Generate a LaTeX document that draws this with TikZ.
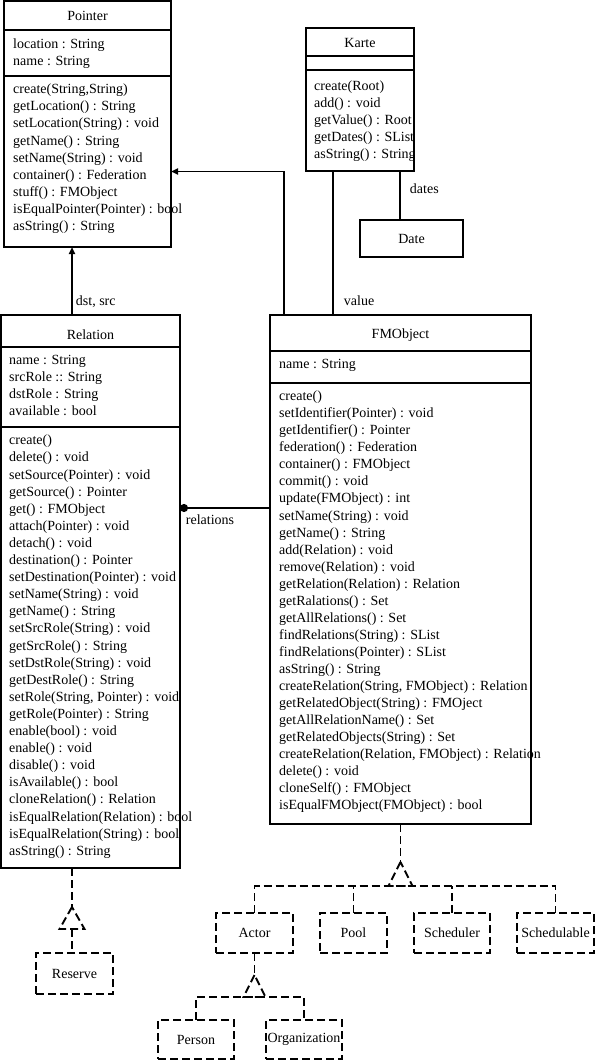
\documentclass[tikz,border=0pt]{standalone}
\usepackage{fontspec}
\setmainfont{Liberation Serif}
\usepackage{tikz}
\usetikzlibrary{arrows.meta}
\usetikzlibrary{calc}
\newcommand{\umlfont}{\fontsize{14}{17}\selectfont}

\begin{document}
\begin{tikzpicture}[x=1pt, y=-1pt,
    box/.style={draw, line width=1.9pt, anchor=north west, inner sep=0pt, outer sep=0pt, font=\umlfont},
    subbox/.style={draw, line width=1.9pt, dash pattern=on 8pt off 4pt, anchor=north, inner sep=0pt, outer sep=0pt, minimum height=40pt, font=\umlfont},
    member/.style={anchor=mid west, inner sep=0pt, yshift=-1.5pt, font=\umlfont},
    clsname/.style={inner sep=0pt, yshift=-1pt, font=\umlfont},
    link/.style={line width=1.9pt},
    isa/.style={line width=1.9pt, dash pattern=on 8pt off 4pt},
    arrowto/.style={-{Triangle[length=7pt,width=6pt]}}]
    \useasboundingbox (0,0) rectangle (595,1062);
    % Pointer
    \node[box, minimum width=167pt, minimum height=246pt] (pointer) at (4,1) {};
    \node[clsname] (ptrname) at ($(pointer.north)+(0,14)$) {Pointer};
    \draw[link] ($(pointer.north west)+(0,29)$) -- ($(pointer.north east)+(0,29)$) ($(pointer.north west)+(0,75)$) -- ($(pointer.north east)+(0,75)$);
    \foreach \m [count=\i from 0] in {{location : String},{name : String}}
        \node[member] (pta\i) at (13,45+17*\i) {\m};
    \foreach \m [count=\i from 0] in {{create(String,String)},{getLocation() : String},{setLocation(String) : void},{getName() : String},{setName(String) : void},{container() : Federation},{stuff() : FMObject},{isEqualPointer(Pointer) : bool},{asString() : String}}
        \node[member] (ptm\i) at (13,90+17.1*\i) {\m};
    % Karte
    \node[box, minimum width=108pt, minimum height=143pt] (karte) at (306,28) {};
    \node[clsname] (kartename) at ($(karte.north)+(0,14)$) {Karte};
    \draw[link] ($(karte.north west)+(0,28)$) -- ($(karte.north east)+(0,28)$) ($(karte.north west)+(0,42)$) -- ($(karte.north east)+(0,42)$);
    \begin{scope}
        \clip (karte.north west) rectangle (karte.south east);
        \foreach \m [count=\i from 0] in {{create(Root)},{add() : void},{getValue() : Root},{getDates() : SList},{asString() : String}}
            \node[member] (ktm\i) at (314,87+17*\i) {\m};
    \end{scope}
    % Date
    \node[box, minimum width=103pt, minimum height=37pt] (date) at (360,220) {Date};
    % Relation
    \node[box, minimum width=179pt, minimum height=553pt] (relation) at (1,315) {};
    \node[clsname] (relname) at ($(relation.north)+(0,19)$) {Relation};
    \draw[link] ($(relation.north west)+(0,32)$) -- ($(relation.north east)+(0,32)$) ($(relation.north west)+(0,112)$) -- ($(relation.north east)+(0,112)$);
    \foreach \m [count=\i from 0] in {{name : String},{srcRole :: String},{dstRole : String},{available : bool}}
        \node[member] (rla\i) at (9,360.5+17*\i) {\m};
    \foreach \m [count=\i from 0] in {{create()},{delete() : void},{setSource(Pointer) : void},{getSource() : Pointer},{get() : FMObject},{attach(Pointer) : void},{detach() : void},{destination() : Pointer},{setDestination(Pointer) : void},{setName(String) : void},{getName() : String},{setSrcRole(String) : void},{getSrcRole() : String},{setDstRole(String) : void},{getDestRole() : String},{setRole(String, Pointer) : void},{getRole(Pointer) : String},{enable(bool) : void},{enable() : void},{disable() : void},{isAvailable() : bool},{cloneRelation() : Relation},{isEqualRelation(Relation) : bool},{isEqualRelation(String) : bool},{asString() : String}}
        \node[member] (rlm\i) at (9,441+17.1*\i) {\m};
    % FMObject
    \node[box, minimum width=261pt, minimum height=509pt] (fmobject) at (270,315) {};
    \node[clsname] (fmname) at ($(fmobject.north)+(0,19)$) {FMObject};
    \draw[link] ($(fmobject.north west)+(0,36)$) -- ($(fmobject.north east)+(0,36)$) ($(fmobject.north west)+(0,68)$) -- ($(fmobject.north east)+(0,68)$);
    \node[member] (fma0) at (279,365) {name : String};
    \foreach \m [count=\i from 0] in {{create()},{setIdentifier(Pointer) : void},{getIdentifier() : Pointer},{federation() : Federation},{container() : FMObject},{commit() : void},{update(FMObject) : int},{setName(String) : void},{getName() : String},{add(Relation) : void},{remove(Relation) : void},{getRelation(Relation) : Relation},{getRalations() : Set},{getAllRelations() : Set},{findRelations(String) : SList},{findRelations(Pointer) : SList},{asString() : String},{createRelation(String, FMObject) : Relation},{getRelatedObject(String) : FMOject},{getAllRelationName() : Set},{getRelatedObjects(String) : Set},{createRelation(Relation, FMObject) : Relation},{delete() : void},{cloneSelf() : FMObject},{isEqualFMObject(FMObject) : bool}}
        \node[member] (fmm\i) at (279,397+17.03*\i) {\m};
    % subclasses
    \node[subbox, minimum width=77pt, minimum height=41pt] (reserve) at (74.5,953) {Reserve};
    \node[subbox, minimum width=77pt] (actor) at (254.5,913) {Actor};
    \node[subbox, minimum width=67pt] (pool) at (353.5,913) {Pool};
    \node[subbox, minimum width=76pt] (scheduler) at (452,913) {Scheduler};
    \node[subbox, minimum width=77pt] (schedulable) at (555.5,913) {Schedulable};
    \node[subbox, minimum width=76pt, minimum height=39pt] (person) at (196,1020) {Person};
    \node[subbox, minimum width=76pt, minimum height=39pt] (organization) at (304,1020) {Organization};
    % associations
    \draw[link, arrowto] ($(relation.north west)+(71,0)$) coordinate (dst) -- (dst |- pointer.south) node[member, pos=0.19, xshift=3pt] (dstlbl) {dst, src};
    \draw[link, arrowto] ($(fmobject.north west)+(14,0)$) |- ($(pointer.north east)+(0,170.5)$);
    \draw[link] ($(karte.south west)+(27,0)$) coordinate (kval) -- (kval |- fmobject.north) node[member, pos=0.91, xshift=10pt] (vallbl) {value};
    \draw[link] ($(karte.south west)+(94,0)$) coordinate (kdat) -- (kdat |- date.north) node[member, pos=0.39, xshift=9pt] (datlbl) {dates};
    \draw[link, {Circle[length=8pt]}-] ($(relation.north east)+(0,193)$) -- ($(fmobject.north west)+(0,193)$) node[member, pos=0, xshift=5pt, yshift=-13pt] (rellbl) {relations};
    % generalisations
    \draw[isa] (fmobject.south) -- ++(0,38) coordinate (fmtip);
    \draw[isa] (fmtip) -- ++(-12,24) -- ++(24,0) -- cycle;
    \draw[isa] (actor.north) -- ++(0,-27) -| (schedulable.north);
    \draw[isa] (pool.north) -- ++(0,-27);
    \draw[isa] (scheduler.north) -- ++(0,-27);
    \draw[isa] (actor.south) -- ++(0,22) coordinate (actortip);
    \draw[isa] (actortip) -- ++(-11,22) -- ++(22,0) -- cycle;
    \draw[isa] (person.north) -- ++(0,-23) -| (organization.north);
    \draw[isa] ($(relation.south west)+(71,0)$) -- ++(0,39) coordinate (reltip);
    \draw[isa] (reltip) -- ++(-12.5,22) -- ++(25,0) -- cycle;
    \draw[isa] ($(reltip)+(0,22)$) -- (reltip |- reserve.north);
\end{tikzpicture}
\end{document}
